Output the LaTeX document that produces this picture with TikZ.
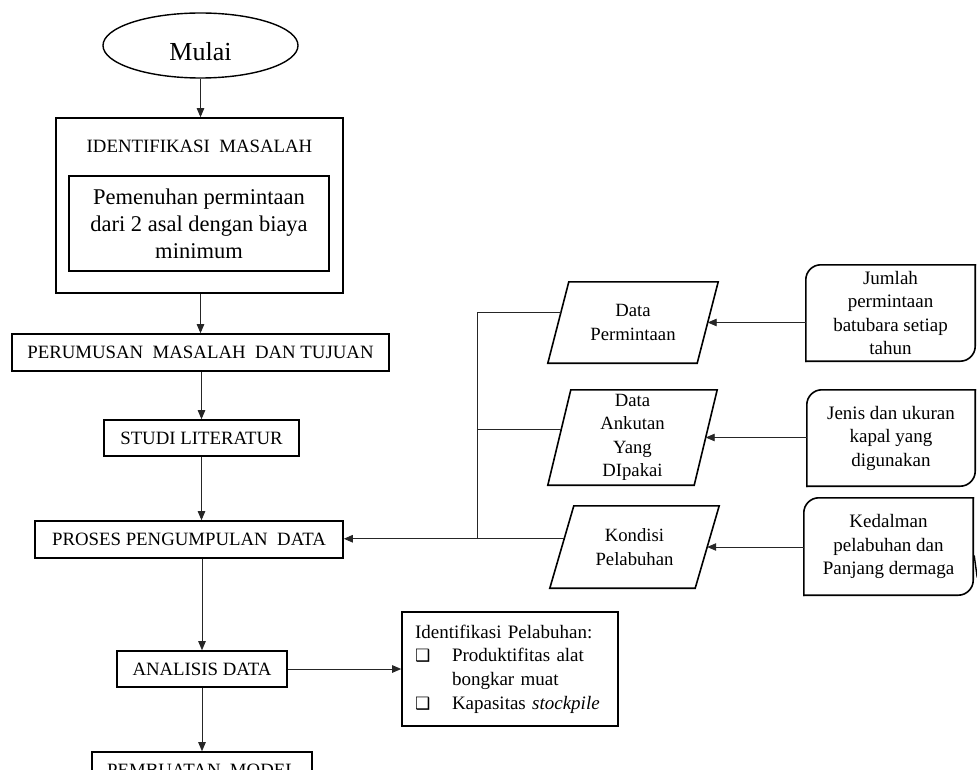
\documentclass[tikz,border=0pt]{standalone}
\usepackage{fontspec}
\setmainfont{Liberation Serif}
\newfontfamily\symfont{DejaVu Sans}
\usetikzlibrary{arrows.meta,shapes.geometric,calc}

% hollow check box used in the bullet list
\newcommand\chkbox{{\symfont\fontsize{17}{17}\selectfont\char"2751}}

\tikzset{
  box/.style={draw, line width=1.6pt, rectangle, inner sep=0pt, align=center},
  capsbox/.style={box, font=\fontsize{18.8}{22}\selectfont},
  paratext/.style={rectangle, inner sep=0pt, align=center, font=\fontsize{18.7}{23.5}\selectfont},
  paraline/.style={line width=1.6pt, line join=miter},
  srcbox/.style={inner sep=0pt, align=center, font=\fontsize{19}{23.5}\selectfont},
  srcline/.style={line width=1.6pt, rounded corners=15pt, line cap=rect},
  link/.style={line width=0.9pt, draw=black!85},
  arr/.style={link, -{Triangle[length=9pt,width=7.5pt]}},
}

\begin{document}
\begin{tikzpicture}[x=1pt, y=-1pt]
\useasboundingbox (0,0) rectangle (977,770);
\clip (0,0) rectangle (977,770);

% ---- main column ----
\node[ellipse, draw, line width=1.4pt, minimum width=195pt, minimum height=65pt, inner sep=0pt] (M) at (200.5,45.5) {};
\node[font=\fontsize{26}{30}\selectfont, inner sep=0pt] (Mtext) at (200.5,52) {Mulai};

\node[box, minimum width=287pt, minimum height=175pt] (IDM) at (199.5,205.5) {};
\node[font=\fontsize{18.8}{22}\selectfont, inner sep=0pt] (IDT) at (199.5,146.5) {IDENTIFIKASI\ \ MASALAH};
\node[box, minimum width=260pt, minimum height=95pt, font=\fontsize{22.5}{27}\selectfont] (IDI) at (199,223.5)
  {Pemenuhan permintaan\\dari 2 asal dengan biaya\\minimum};

\node[capsbox, minimum width=377pt, minimum height=37pt] (PER) at (200.5,352.5) {PERUMUSAN\ \ MASALAH\ \ DAN TUJUAN};
\node[capsbox, minimum width=195pt, minimum height=36pt] (ST) at (201.5,438) {STUDI LITERATUR};
\node[capsbox, minimum width=308pt, minimum height=37pt] (PRO) at (189,539.5) {PROSES PENGUMPULAN\ \ DATA};
\node[capsbox, minimum width=170pt, minimum height=36pt] (AN) at (202,669) {ANALISIS DATA};
\node[capsbox, minimum width=220pt, minimum height=37pt] (PM) at (202,770.5) {PEMBUATAN\ \ MODEL};

\node[draw, line width=1.6pt, inner xsep=13pt, inner ysep=0pt, text width=190pt, minimum height=114pt,
  align=left, font=\fontsize{19}{23.7}\selectfont] (IP) at (510,669)
  {Identifikasi Pelabuhan:\\
   \makebox[37pt][l]{\chkbox}Produktifitas alat\\
   \hspace*{37pt}bongkar muat\\
   \makebox[37pt][l]{\chkbox}Kapasitas \textit{stockpile}};

% ---- data inputs (parallelograms leaning right) ----
\node[paratext, minimum width=170pt, minimum height=81pt] (DP) at (633,322.5) {Data\\Permintaan};
\node[paratext, minimum width=169pt, minimum height=95pt] (AK) at (632.5,437.5) {Data\\Ankutan\\Yang\\DIpakai};
\node[paratext, minimum width=169pt, minimum height=82pt] (KP) at (634.5,547) {Kondisi\\Pelabuhan};
\foreach \n/\s in {DP/21, AK/23, KP/24}{
  \coordinate (\n tl) at ($(\n.north west)+(\s,0)$);
  \coordinate (\n br) at ($(\n.south east)+(-\s,0)$);
  \draw[paraline] (\n.south west) -- (\n tl) -- (\n.north east) -- (\n br) -- cycle;
  \coordinate (\n in) at ($(\n br)!0.5!(\n.north east)$);
}
\coordinate (DPl) at ($(DP.south west)!0.62!(DPtl)$);
\coordinate (AKl) at ($(AK.south west)!0.58!(AKtl)$);
\coordinate (KPl) at ($(KP.south west)!0.60!(KPtl)$);

% ---- data sources ----
\node[srcbox, minimum width=169pt, minimum height=96pt] (J) at (890.5,313)
  {Jumlah\\permintaan\\batubara setiap\\tahun};
\node[srcbox, minimum width=168pt, minimum height=96pt] (JK) at (891,438)
  {Jenis dan ukuran\\kapal yang\\digunakan};
\node[srcbox, minimum width=169pt, minimum height=97pt] (KD) at (888.5,546.5)
  {Kedalman\\pelabuhan dan\\Panjang dermaga};
\foreach \n in {J,JK,KD}{
  \draw[srcline] (\n.south west) -- (\n.north west) -- (\n.north east);
  \draw[srcline] (\n.north east) -- (\n.south east) -- (\n.south west);
}
\draw[line width=1.4pt] ($(KD.east)+(1,9)$) -- ($(KD.east)+(4,31)$);

% ---- main flow arrows ----
\draw[arr] (M.south) -- (M.south |- IDM.north);
\draw[arr] (PER.north |- IDM.south) -- (PER.north);
\draw[arr] (ST.north |- PER.south) -- (ST.north);
\draw[arr] (ST.south) -- (ST.south |- PRO.north);
\draw[arr] (AN.north |- PRO.south) -- (AN.north);
\draw[arr] (AN.south) -- (AN.south |- PM.north);
\draw[arr] (AN.east) -- (IP.west);

% ---- collecting bus from the data inputs ----
\coordinate (bus) at (477,0);
\draw[link] (DPl) -- (DPl -| bus) -- (KPl -| bus);
\draw[link] (AKl) -- (AKl -| bus);
\draw[arr] (KPl) -- (KPl -| PRO.east);

% ---- sources feeding the inputs ----
\draw[arr] (J.west |- DPin) -- (DPin);
\draw[arr] (JK.west |- AKin) -- (AKin);
\draw[arr] (KD.west |- KPin) -- (KPin);
\end{tikzpicture}
\end{document}
